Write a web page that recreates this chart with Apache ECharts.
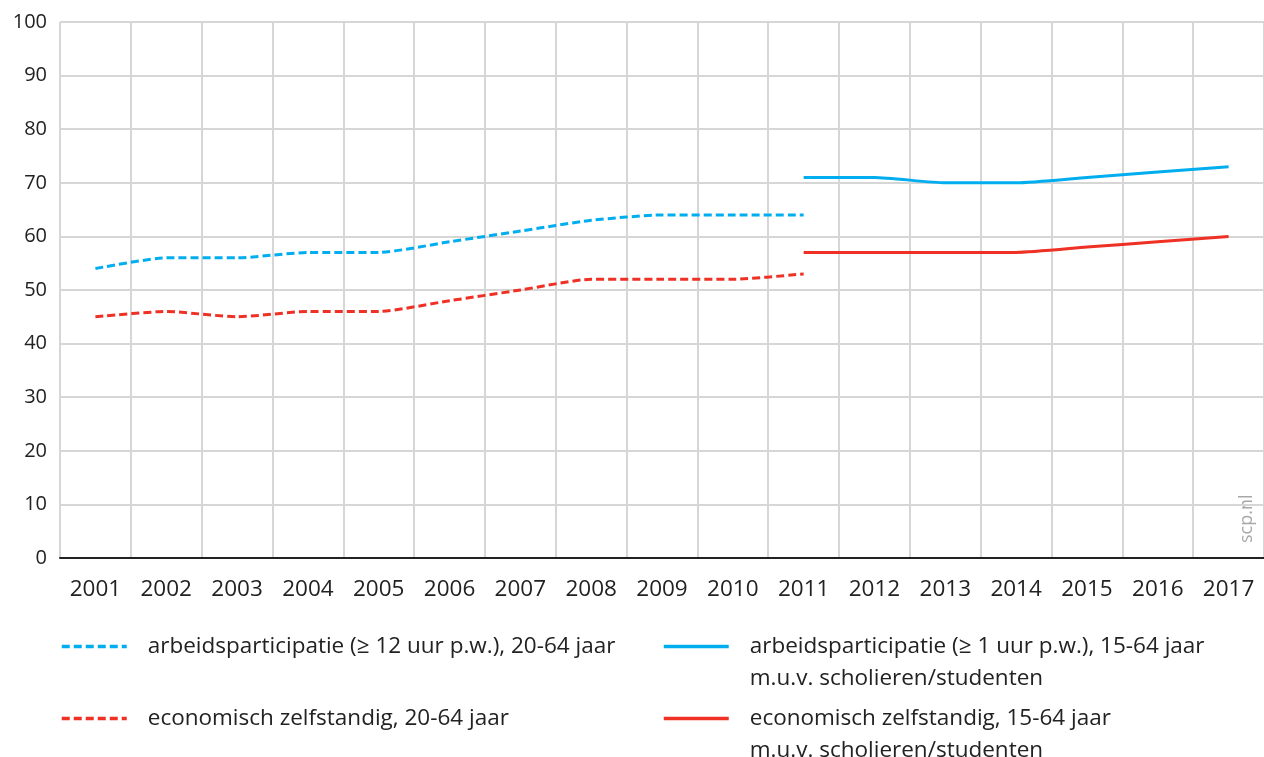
<!DOCTYPE html>
<html>
<head>
<meta charset="utf-8">
<script src="https://cdn.jsdelivr.net/npm/echarts@6/dist/echarts.min.js"></script>
<style>
  html, body { margin: 0; padding: 0; background: #fff; }
  #chart { width: 1264px; height: 757px; }
</style>
</head>
<body>
<div id="chart"></div>
<script>
var years = ['2001', '2002', '2003', '2004', '2005', '2006', '2007', '2008', '2009',
  '2010', '2011', '2012', '2013', '2014', '2015', '2016', '2017'];

// dashed series, 2001-2011
var arbeid12 = [54, 56, 56, 57, 57, 59, 61, 63, 64, 64, 64, null, null, null, null, null, null];
var zelfst20 = [45, 46, 45, 46, 46, 48, 50, 52, 52, 52, 53, null, null, null, null, null, null];
// solid series, 2011-2017
var arbeid1 = [null, null, null, null, null, null, null, null, null, null, 71, 71, 70, 70, 71, 72, 73];
var zelfst15 = [null, null, null, null, null, null, null, null, null, null, 57, 57, 57, 57, 58, 59, 60];

var names = [
  'arbeidsparticipatie (≥ 12 uur p.w.), 20-64 jaar',
  'economisch zelfstandig, 20-64 jaar',
  'arbeidsparticipatie (≥ 1 uur p.w.), 15-64 jaar',
  'economisch zelfstandig, 15-64 jaar'
];
var extraLine = 'm.u.v. scholieren/studenten';

var blue = '#00aeef';
var red = '#ee3124';
var font = 'Open Sans';

function lineSeries(name, data, color, dashed) {
  return {
    name: name,
    type: 'line',
    data: data,
    smooth: 0.2,
    showSymbol: false,
    symbol: 'none',
    connectNulls: false,
    color: color,
    lineStyle: { color: color, width: 3, type: dashed ? [8, 4] : 'solid' }
  };
}

function legendAt(name, left, top, twoLines) {
  return {
    data: [name],
    left: left,
    top: top,
    itemWidth: 65,
    itemHeight: 14,
    padding: 0,
    selectedMode: false,
    itemStyle: { opacity: 0 },
    lineStyle: { width: 3.5 },
    formatter: function (n) {
      if (!twoLines) return '{g|}{t|' + n + '}';
      // blank first line keeps the icon level with the series name
      return '{g|}{t| }\n{g|}{t|' + n + '}\n{g|}{t|' + extraLine + '}';
    },
    textStyle: {
      rich: {
        g: { width: 16 },
        t: { fontFamily: font, fontSize: 22.5, color: '#222', lineHeight: 32 }
      }
    }
  };
}

var myChart = echarts.init(document.getElementById('chart'));
var option = {
  animation: false,
  grid: { left: 60, top: 22, width: 1205, height: 536, containLabel: false },
  xAxis: {
    type: 'category',
    data: years,
    boundaryGap: true,
    axisLine: { lineStyle: { color: '#222', width: 2 } },
    axisTick: { alignWithLabel: true, length: 10, lineStyle: { color: '#222', width: 2 } },
    axisLabel: { fontFamily: font, fontSize: 22.5, color: '#222', margin: 20 },
    splitLine: { show: true, lineStyle: { color: '#d6d6d6', width: 2 } }
  },
  yAxis: {
    type: 'value',
    min: 0,
    max: 100,
    interval: 10,
    axisLine: { show: false },
    axisTick: { show: false },
    axisLabel: { fontFamily: font, fontSize: 20, color: '#222', margin: 13 },
    splitLine: { lineStyle: { color: '#d6d6d6', width: 2 } }
  },
  legend: [
    legendAt(names[0], 60, 635, false),
    legendAt(names[1], 60, 707, false),
    legendAt(names[2], 662, 603, true),
    legendAt(names[3], 662, 675, true)
  ],
  graphic: [
    {
      type: 'text',
      x: 1238,
      y: 543,
      rotation: Math.PI / 2,
      style: {
        text: 'scp.nl',
        fill: '#a8a8a8',
        font: '18px ' + font
      }
    }
  ],
  series: [
    lineSeries(names[0], arbeid12, blue, true),
    lineSeries(names[1], zelfst20, red, true),
    lineSeries(names[2], arbeid1, blue, false),
    lineSeries(names[3], zelfst15, red, false)
  ]
};
myChart.setOption(option);
window.addEventListener('resize', function () {
  myChart.resize();
});
</script>
</body>
</html>
